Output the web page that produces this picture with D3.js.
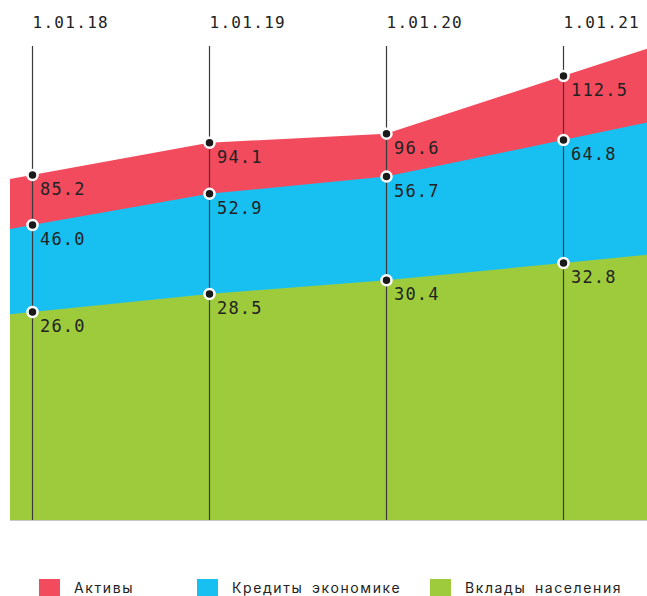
<!DOCTYPE html>
<html>
<head>
<meta charset="utf-8">
<script src="https://cdn.jsdelivr.net/npm/d3@7"></script>
<style>
  body { margin: 0; background: #fff; }
  svg { display: block; }
</style>
</head>
<body>
<div id="chart"></div>
<script>
// data
var dates = ["1.01.18", "1.01.19", "1.01.20", "1.01.21"];
var assets = [85.2, 94.1, 96.6, 112.5];
var credits = [46.0, 52.9, 56.7, 64.8];
var deposits = [26.0, 28.5, 30.4, 32.8];
var seriesNames = ["Активы", "Кредиты экономике", "Вклады населения"];

var width = 647, height = 596;
var left = 10, right = 647, bottom = 520, lineTop = 46;

var svg = d3.select("#chart")
    .append("svg")
    .attr("width", width)
    .attr("height", height);

var x = d3.scaleLinear()
    .domain([0, dates.length - 1])
    .range([32, 563]);

// the source chart is not drawn to one common scale: every band has its own
var series = [
    {name: seriesNames[0], values: assets, color: "#f24b5e",
     y: d3.scaleLinear().domain([85.2, 112.5]).range([175, 76])},
    {name: seriesNames[1], values: credits, color: "#17c0f1",
     y: d3.scaleLinear().domain([46.0, 64.8]).range([225, 140])},
    {name: seriesNames[2], values: deposits, color: "#9dcb3b",
     y: d3.scaleLinear().domain([26.0, 32.8]).range([312, 263])}
];

// extend each band past the first and last dates along the end segments
function extended(vals) {
    var n = vals.length;
    var t0 = x.invert(left), t1 = x.invert(right);
    var pts = [{t: t0, v: vals[0] + (vals[1] - vals[0]) * t0}];
    vals.forEach(function (v, i) { pts.push({t: i, v: v}); });
    pts.push({t: t1, v: vals[n - 1] + (vals[n - 1] - vals[n - 2]) * (t1 - (n - 1))});
    return pts;
}

series.forEach(function (s) {
    var area = d3.area()
        .x(function (d) { return x(d.t); })
        .y0(bottom)
        .y1(function (d) { return s.y(d.v); });
    svg.append("path")
        .datum(extended(s.values))
        .attr("d", area)
        .attr("fill", s.color);
});

// base line
svg.append("line")
    .attr("x1", left).attr("x2", right)
    .attr("y1", bottom + 0.5).attr("y2", bottom + 0.5)
    .attr("stroke", "#c8c8c8")
    .attr("stroke-width", 1);

// date lines and labels
var cols = svg.selectAll(".col")
    .data(dates)
    .enter()
    .append("g")
    .attr("class", "col")
    .attr("transform", function (d, i) { return "translate(" + (Math.round(x(i)) + 0.5) + ",0)"; });

cols.append("line")
    .attr("y1", lineTop).attr("y2", bottom)
    .attr("stroke", "#3a3a3a")
    .attr("stroke-width", 1.2);

cols.append("text")
    .attr("x", 0)
    .attr("y", 28)
    .attr("font-family", "DejaVu Sans Mono, monospace")
    .attr("font-size", "16px")
    .attr("letter-spacing", "1.3px")
    .attr("fill", "#222")
    .text(function (d) { return d; });

// points and value labels
series.forEach(function (s) {
    var g = svg.append("g");
    g.selectAll("circle")
        .data(s.values)
        .enter()
        .append("circle")
        .attr("cx", function (d, i) { return Math.round(x(i)) + 0.5; })
        .attr("cy", function (d) { return s.y(d); })
        .attr("r", 5)
        .attr("fill", "#1a1a1a")
        .attr("stroke", "#fff")
        .attr("stroke-width", 2.5);
    g.selectAll("text")
        .data(s.values)
        .enter()
        .append("text")
        .attr("x", function (d, i) { return x(i) + 8; })
        .attr("y", function (d) { return s.y(d) + 20; })
        .attr("font-family", "DejaVu Sans Mono, monospace")
        .attr("font-size", "17px")
        .attr("letter-spacing", "1.2px")
        .attr("fill", "#222")
        .text(function (d) { return d.toFixed(1); });
});

// legend
var legendX = [39, 197, 430];
var legend = svg.selectAll(".legend")
    .data(series)
    .enter()
    .append("g")
    .attr("class", "legend")
    .attr("transform", function (d, i) { return "translate(" + legendX[i] + ",579)"; });

legend.append("rect")
    .attr("width", 21)
    .attr("height", 21)
    .attr("fill", function (d) { return d.color; });

legend.append("text")
    .attr("x", 35)
    .attr("y", 14)
    .attr("font-family", "Inter, sans-serif")
    .attr("font-size", "14px")
    .attr("letter-spacing", "1.6px")
    .attr("word-spacing", "3px")
    .attr("fill", "#222")
    .text(function (d) { return d.name; });
</script>
</body>
</html>
